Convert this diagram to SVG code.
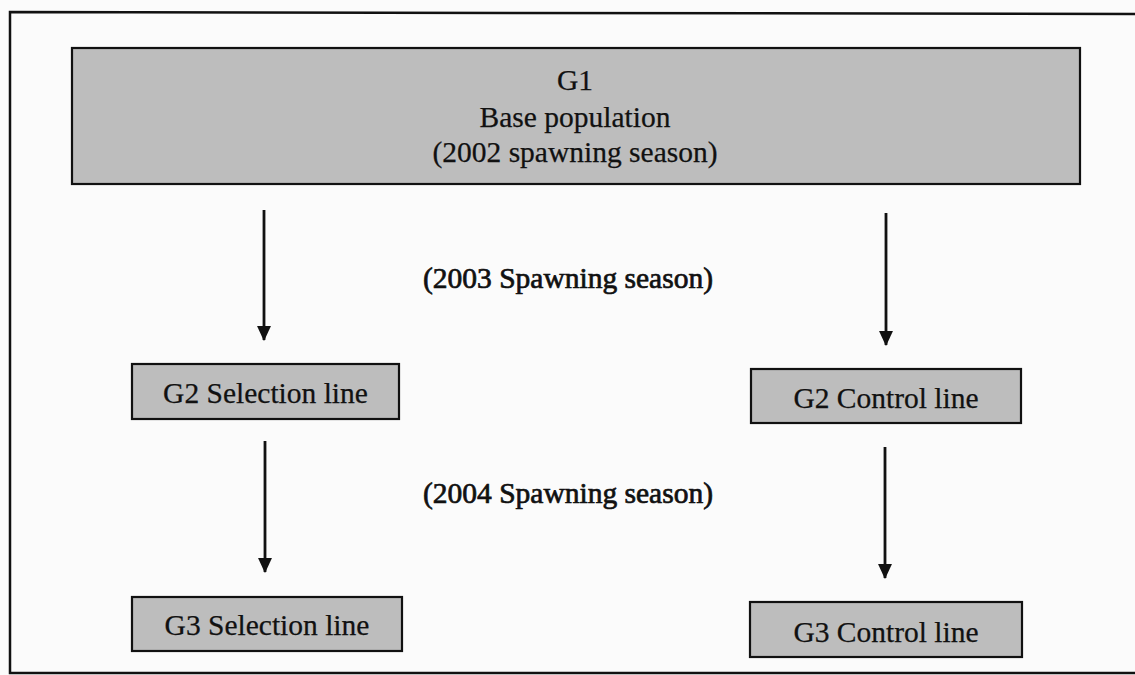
<svg xmlns="http://www.w3.org/2000/svg" width="1135" height="675" viewBox="0 0 1135 675">
<defs>
<marker id="ah" viewBox="0 0 14 13" refX="13" refY="6.5" markerWidth="15" markerHeight="14" markerUnits="userSpaceOnUse" orient="auto">
<path d="M0,0 L14,6.5 L0,13 Z" fill="#111"/>
</marker>
</defs>
<style>
.box{fill:#bdbdbd;stroke:#111;stroke-width:2.2}
.t{font-family:"Liberation Serif","Times New Roman",serif;font-size:29.5px;fill:#111;stroke:#111;stroke-width:0.25;text-anchor:middle}
.lbl{stroke-width:0.7}
.c{stroke:#111;stroke-width:2.8;fill:none;marker-end:url(#ah)}
</style>
<rect x="0" y="0" width="1135" height="675" fill="#fbfbfb"/>
<path d="M1140,14 L10,12 L10,673 L1140,673" fill="none" stroke="#111" stroke-width="2.5"/>
<g id="g1">
<rect class="box" x="72" y="48" width="1008" height="136"/>
<text class="t" x="575" y="90">G1</text>
<text class="t" x="575" y="127">Base population</text>
<text class="t" x="575" y="162">(2002 spawning season)</text>
</g>
<g id="g2s">
<rect class="box" x="132" y="364" width="267" height="55"/>
<text class="t" x="265.5" y="403">G2 Selection line</text>
</g>
<g id="g2c">
<rect class="box" x="751" y="369" width="270" height="54"/>
<text class="t" x="886" y="408">G2 Control line</text>
</g>
<g id="g3s">
<rect class="box" x="132" y="597" width="270" height="54"/>
<text class="t" x="267" y="635">G3 Selection line</text>
</g>
<g id="g3c">
<rect class="box" x="750" y="602" width="272" height="55"/>
<text class="t" x="886" y="642">G3 Control line</text>
</g>
<g id="labels">
<text class="t lbl" x="568" y="288">(2003 Spawning season)</text>
<text class="t lbl" x="568" y="503">(2004 Spawning season)</text>
</g>
<g id="connectors">
<line class="c" x1="264" y1="210" x2="264" y2="340"/>
<line class="c" x1="886" y1="213" x2="886" y2="345"/>
<line class="c" x1="265" y1="441" x2="265" y2="572"/>
<line class="c" x1="885" y1="447" x2="885" y2="578"/>
</g>
</svg>
